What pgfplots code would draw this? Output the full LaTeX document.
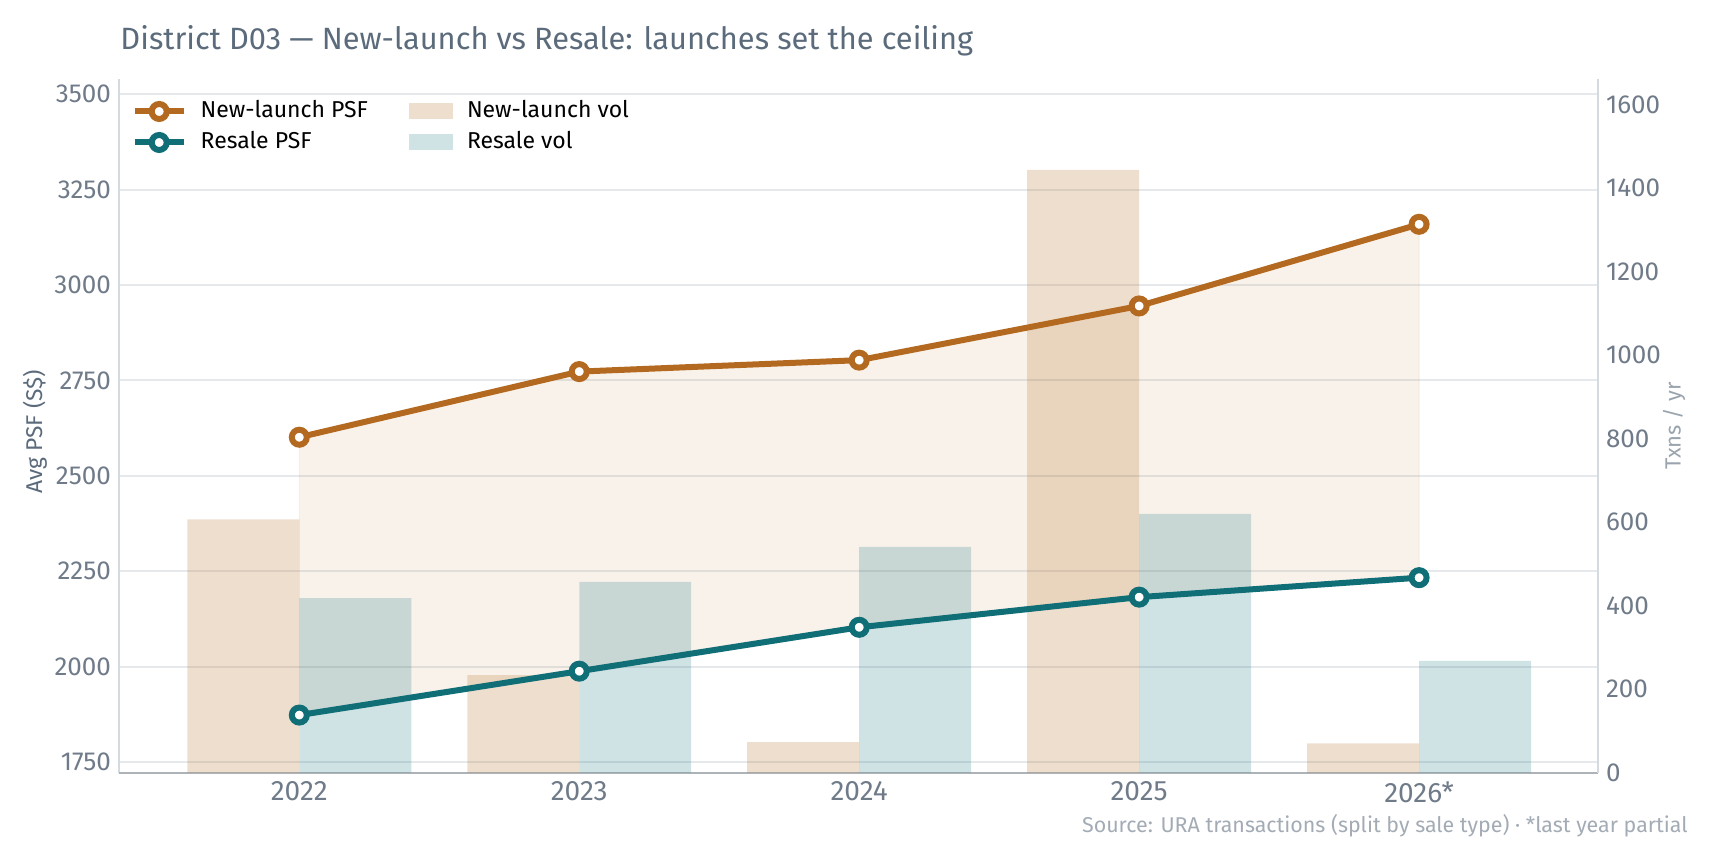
\documentclass[border=0pt]{standalone}
\usepackage{pgfplots}
\pgfplotsset{compat=1.18}
\usepackage{pgfplotstable}
\usepgfplotslibrary{fillbetween}
\usepackage{fontspec}
\setmainfont{Fira Sans}
\definecolor{nlc}{HTML}{B36A20}
\definecolor{rsc}{HTML}{0F6E76}
\definecolor{titlec}{HTML}{5B6B7B}
\definecolor{tickc}{HTML}{707B89}
\definecolor{srcc}{HTML}{A3ABB5}
\definecolor{ylc}{HTML}{9AA4AE}
\definecolor{spinec}{HTML}{D4DAE0}
\definecolor{botc}{HTML}{AEB3B8}
\definecolor{gridc}{HTML}{E6E9EC}

\pgfplotsset{
  lineleg/.style={legend image code/.code={\draw[mark repeat=2,mark phase=2,##1] plot coordinates {(0pt,0pt)(12.25pt,0pt)(24.5pt,0pt)};}},
  barleg/.style={legend image code/.code={\fill[##1] (0pt,-4pt) rectangle (22pt,4pt);}},
}

\pgfplotstableread{
x nlpsf rspsf nlvol rsvol
0 2601 1873 607 418
1 2773 1988 234 457
2 2803 2103 73 541
3 2945 2182 1444 620
4 3159 2233 70 268
}\data

\begin{document}
\begin{tikzpicture}
\pgfplotsset{
  common/.style={
    scale only axis, width=739.2pt, height=346.9pt,
    xmin=-0.643, xmax=4.638,
    major tick length=0pt,
    /pgf/number format/assume math mode=true,
    /pgf/number format/1000 sep={},
    ticklabel style={font=\fontsize{13}{15}\selectfont, text=tickc},
  }
}
\begin{axis}[common,
  ymin=0, ymax=1662,
  axis x line*=bottom, axis y line*=right,
  x axis line style={-, draw=botc, line width=1pt},
  y axis line style={-, draw=spinec, line width=1pt},
  xtick={0,1,2,3,4}, xticklabels={2022,2023,2024,2025,2026*},
  xticklabel style={anchor=north, inner sep=0pt, yshift=-4.3pt, font=\fontsize{14}{16}\selectfont},
  ytick={0,200,...,1600},
  yticklabel style={anchor=west, inner sep=0pt, xshift=4pt},
]
\addplot[ybar, bar width=0.4, bar shift=-0.2, fill=nlc, fill opacity=0.22, draw=none] table[x=x,y=nlvol]{\data};
\addplot[ybar, bar width=0.4, bar shift=0.2, fill=rsc, fill opacity=0.2, draw=none] table[x=x,y=rsvol]{\data};
\end{axis}
\begin{axis}[common,
  ymin=1722, ymax=3540,
  axis x line=none, axis y line*=left,
  y axis line style={-, draw=spinec, line width=1pt},
  ytick={1750,2000,...,3500},
  ymajorgrids, grid style={gridc, line width=1pt},
  yticklabel style={anchor=east, inner sep=0pt, xshift=-4pt},
  legend columns=2,
  legend cell align=left,
  legend style={draw=none, fill=none, at={(0,1)}, anchor=north west,
    xshift=6pt, yshift=-9.1pt, inner sep=0pt,
    font=\fontsize{11.5}{13}\selectfont,
    nodes={inner sep=1.5pt, text height=8.5pt, text depth=2.5pt},
    row sep=1.5pt,
    /tikz/every odd column/.append style={column sep=5.5pt},
    /tikz/every even column/.append style={column sep=19pt}},
]
\addlegendimage{nlc, line width=3pt, mark=*, mark size=3.75pt, mark options={fill=white, draw=nlc}, lineleg}
\addlegendentry{New-launch PSF}
\addlegendimage{fill=nlc, fill opacity=0.22, draw=none, barleg}
\addlegendentry{New-launch vol}
\addlegendimage{rsc, line width=3pt, mark=*, mark size=3.75pt, mark options={fill=white, draw=rsc}, lineleg}
\addlegendentry{Resale PSF}
\addlegendimage{fill=rsc, fill opacity=0.2, draw=none, barleg}
\addlegendentry{Resale vol}

\addplot[draw=none, name path=nl, forget plot] table[x=x,y=nlpsf]{\data};
\addplot[draw=none, name path=rs, forget plot] table[x=x,y=rspsf]{\data};
\addplot[fill=nlc, fill opacity=0.09, draw=nlc, draw opacity=0.1, forget plot] fill between[of=nl and rs];
\addplot[nlc, line width=3pt, mark=*, mark size=3.75pt, mark options={fill=white, draw=nlc}, forget plot] table[x=x,y=nlpsf]{\data};
\addplot[rsc, line width=3pt, mark=*, mark size=3.75pt, mark options={fill=white, draw=rsc}, forget plot] table[x=x,y=rspsf]{\data};
\end{axis}
\node[anchor=base west, inner sep=0pt, text=titlec, font=\fontsize{15.4}{18}\selectfont] at (0.4pt,361.35pt) {District D03 — New-launch vs Resale: launches set the ceiling};
\node[rotate=90, text=titlec, font=\fontsize{11.4}{13}\selectfont] at (-42.15pt,170.5pt) {Avg PSF (S\$)};
\node[rotate=90, text=ylc, font=\fontsize{11}{13}\selectfont] at (777.35pt,173.4pt) {Txns / yr};
\node[anchor=base east, inner sep=0pt, text=srcc, font=\fontsize{10.7}{12}\selectfont] at (784.35pt,-30.15pt) {Source: URA transactions (split by sale type) · *last year partial};
\pgfresetboundingbox
\useasboundingbox (-59.65pt,-41.15pt) rectangle (795.35pt,386.35pt);
\end{tikzpicture}
\end{document}
